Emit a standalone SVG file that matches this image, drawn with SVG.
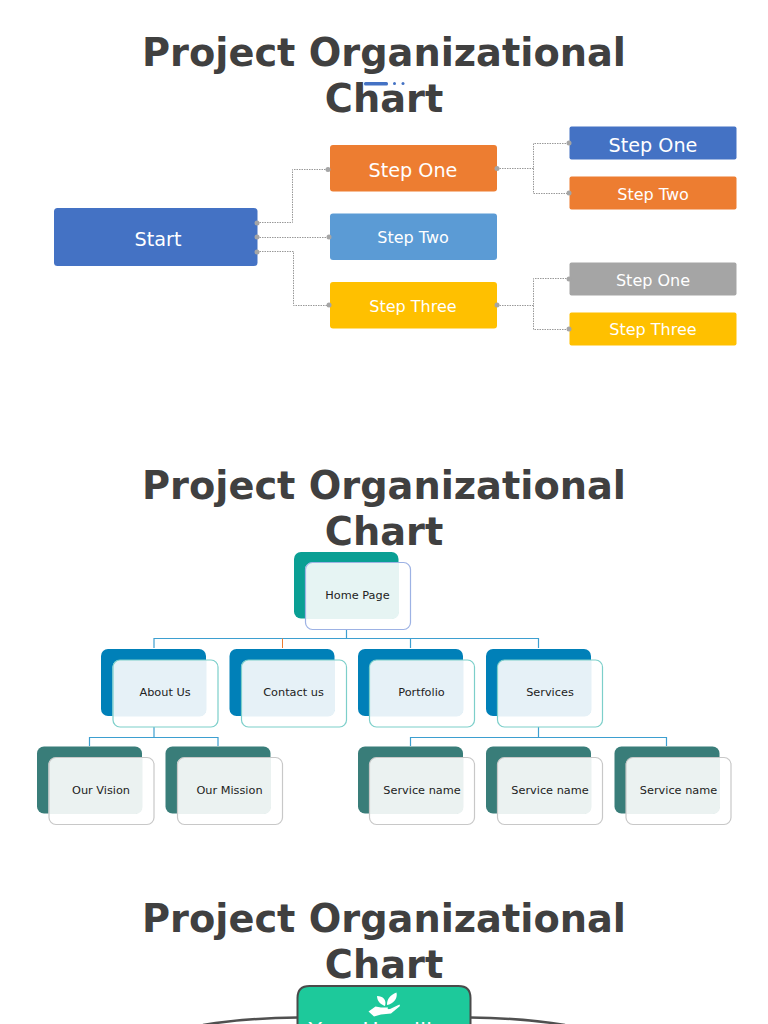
<svg xmlns="http://www.w3.org/2000/svg" width="768" height="1024" viewBox="0 0 768 1024">
<defs><path id="panel" d="M7 0H94V49.500A7 7 0 0 1 87 56.500H0V7A7 7 0 0 1 7 0Z"/></defs>
<style>
text{font-family:"DejaVu Sans",sans-serif;text-anchor:middle}
.title{font-size:38.3px;font-weight:700;fill:#404040}
.w{fill:#fff;font-size:16px}
.b{font-size:19.2px}
.n{fill:#222;font-size:11.3px}
.dot{fill:none;stroke:#999;stroke-width:1;stroke-dasharray:1.500 1}
.pin{fill:#a5a5a5}
.ln{fill:none;stroke:#3d9fd0;stroke-width:1.200}
.fr{fill:none;stroke-width:1.200}
</style>
<rect width="768" height="1024" fill="#fff"/>
<g id="titles">
<text class="title" x="384" y="66">Project Organizational</text>
<text class="title" x="384" y="112">Chart</text>
<text class="title" x="384" y="499">Project Organizational</text>
<text class="title" x="384" y="545">Chart</text>
<text class="title" x="384" y="932">Project Organizational</text>
<text class="title" x="384" y="978">Chart</text>
</g>
<g id="title-accent" fill="#4472c4">
<rect x="364" y="82" width="24" height="3.5" rx="1.5"/>
<circle cx="394.500" cy="83.500" r="1.500"/>
<circle cx="403" cy="83.500" r="1.500"/>
</g>
<g id="connectors">
<path class="dot" d="M257 222.500H292.500V169.500H329"/>
<path class="dot" d="M257 237.500H329"/>
<path class="dot" d="M257 251.500H293.500V305.500H329"/>
<path class="dot" d="M497 168.500H533.500V143.500H569"/>
<path class="dot" d="M533.500 168.500V193.500H569"/>
<path class="dot" d="M497 305.500H533.500V278.500H569"/>
<path class="dot" d="M533.500 305.500V329.500H569"/>
<path class="ln" d="M346.500 630V638.500M154 648V638.500H538.500V648M410.500 638.500V648"/>
<path d="M282.500 638.500V648" fill="none" stroke="#ed7d31"/>
<path class="ln" d="M154 727V737.500M89.500 746V737.500H218V746"/>
<path class="ln" d="M538.500 727V737.500M410.500 746V737.500H666.500V746"/>
</g>
<g id="start"><rect x="54" y="208" width="203.500" height="58" rx="3.500" fill="#4472c4"/><text class="w b" x="158" y="246">Start</text></g>
<g id="step-one-a"><rect x="330" y="145" width="167" height="46.500" rx="3" fill="#ed7d31"/><text class="w b" x="413" y="176.500">Step One</text></g>
<g id="step-two-a"><rect x="330" y="213.500" width="167" height="46.500" rx="3" fill="#5b9bd5"/><text class="w" x="413" y="242.500">Step Two</text></g>
<g id="step-three-a"><rect x="330" y="282" width="167" height="46.500" rx="3" fill="#ffc000"/><text class="w" x="413" y="311.500">Step Three</text></g>
<g id="step-one-b"><rect x="569.500" y="126.500" width="167" height="33" rx="2" fill="#4472c4"/><text class="w b" x="653" y="151.500">Step One</text></g>
<g id="step-two-b"><rect x="569.500" y="176.500" width="167" height="33" rx="2" fill="#ed7d31"/><text class="w" x="653" y="199.500">Step Two</text></g>
<g id="step-one-c"><rect x="569.500" y="262.500" width="167" height="33" rx="2" fill="#a5a5a5"/><text class="w" x="653" y="285.500">Step One</text></g>
<g id="step-three-c"><rect x="569.500" y="312.500" width="167" height="33" rx="2" fill="#ffc000"/><text class="w" x="653" y="334.500">Step Three</text></g>
<g id="pins" class="pin">
<circle cx="257" cy="223" r="2.500"/><circle cx="257" cy="237" r="2.500"/><circle cx="257" cy="252" r="2.500"/>
<circle cx="328" cy="169.500" r="2.500"/><circle cx="329" cy="237" r="2.500"/><circle cx="329" cy="305" r="2.500"/>
<circle cx="497" cy="168.500" r="2.500"/><circle cx="497" cy="305" r="2.500"/>
<circle cx="569" cy="143" r="2.500"/><circle cx="569" cy="193" r="2.500"/><circle cx="569" cy="279" r="2.500"/><circle cx="569" cy="329" r="2.500"/>
</g>
<g id="home-page"><rect x="294" y="552" width="104.500" height="66.500" rx="7" fill="#0a9f94"/><use href="#panel" x="305" y="562.500" fill="#e6f4f3"/><rect class="fr" x="305.500" y="562.500" width="105" height="67" rx="7" stroke="#9db2e4"/><text class="n" x="357.500" y="599">Home Page</text></g>
<g id="about-us"><rect x="101" y="649" width="105" height="67" rx="7" fill="#0080b8"/><use href="#panel" x="112.500" y="660" fill="#e6f1f7"/><rect class="fr" x="113" y="660" width="105" height="67" rx="7" stroke="#7ccfca"/><text class="n" x="165" y="696">About Us</text></g>
<g id="contact-us"><rect x="229.500" y="649" width="105" height="67" rx="7" fill="#0080b8"/><use href="#panel" x="241" y="660" fill="#e6f1f7"/><rect class="fr" x="241.500" y="660" width="105" height="67" rx="7" stroke="#7ccfca"/><text class="n" x="293.500" y="696">Contact us</text></g>
<g id="portfolio"><rect x="358" y="649" width="105" height="67" rx="7" fill="#0080b8"/><use href="#panel" x="369.500" y="660" fill="#e6f1f7"/><rect class="fr" x="369.500" y="660" width="105" height="67" rx="7" stroke="#7ccfca"/><text class="n" x="421.500" y="696">Portfolio</text></g>
<g id="services"><rect x="486" y="649" width="105" height="67" rx="7" fill="#0080b8"/><use href="#panel" x="497.500" y="660" fill="#e6f1f7"/><rect class="fr" x="497.500" y="660" width="105" height="67" rx="7" stroke="#7ccfca"/><text class="n" x="550" y="696">Services</text></g>
<g id="our-vision"><rect x="37" y="746.500" width="105" height="67" rx="7" fill="#397d79"/><use href="#panel" x="48.500" y="757.500" fill="#ebf2f1"/><rect class="fr" x="49" y="757.500" width="105" height="67" rx="7" stroke="#c8c8c8"/><text class="n" x="101" y="794">Our Vision</text></g>
<g id="our-mission"><rect x="165.500" y="746.500" width="105" height="67" rx="7" fill="#397d79"/><use href="#panel" x="177" y="757.500" fill="#ebf2f1"/><rect class="fr" x="177.500" y="757.500" width="105" height="67" rx="7" stroke="#c8c8c8"/><text class="n" x="229.500" y="794">Our Mission</text></g>
<g id="service-1"><rect x="358" y="746.500" width="105" height="67" rx="7" fill="#397d79"/><use href="#panel" x="369.500" y="757.500" fill="#ebf2f1"/><rect class="fr" x="369.500" y="757.500" width="105" height="67" rx="7" stroke="#c8c8c8"/><text class="n" x="422" y="794">Service name</text></g>
<g id="service-2"><rect x="486" y="746.500" width="105" height="67" rx="7" fill="#397d79"/><use href="#panel" x="497.500" y="757.500" fill="#ebf2f1"/><rect class="fr" x="497.500" y="757.500" width="105" height="67" rx="7" stroke="#c8c8c8"/><text class="n" x="550" y="794">Service name</text></g>
<g id="service-3"><rect x="614.500" y="746.500" width="105" height="67" rx="7" fill="#397d79"/><use href="#panel" x="626" y="757.500" fill="#ebf2f1"/><rect class="fr" x="626" y="757.500" width="105" height="67" rx="7" stroke="#c8c8c8"/><text class="n" x="678.500" y="794">Service name</text></g>
<g id="third-chart">
<path d="M203 1025Q245 1018 298 1017.500M470 1017.500Q523 1018 565 1025" fill="none" stroke="#505050" stroke-width="2.500"/>
<path d="M297.500 1030V998Q297.500 986 309.500 986H458.500Q470.500 986 470.500 998V1030Z" fill="#1dc99b" stroke="#4a4a4a" stroke-width="2"/>
<text x="384" y="1038" style="font-size:22px" fill="#fff">Your Headline</text>
<g fill="#fff">
<path d="M368.500 1011.500L375.500 1006.500L381 1007.500H388L387.500 1009.500H382.500L390 1009L399.500 1004.500L400 1006L391 1013.500L381 1014.500L374 1016.500Z"/>
<path d="M385 1006C382 1005 377 1002 377 996C383 996 387 1000 385 1006ZM387 1005C387 999 390 995 396.500 992.500C398 999 393 1004 387 1005Z"/>
</g>
</g>
</svg>
